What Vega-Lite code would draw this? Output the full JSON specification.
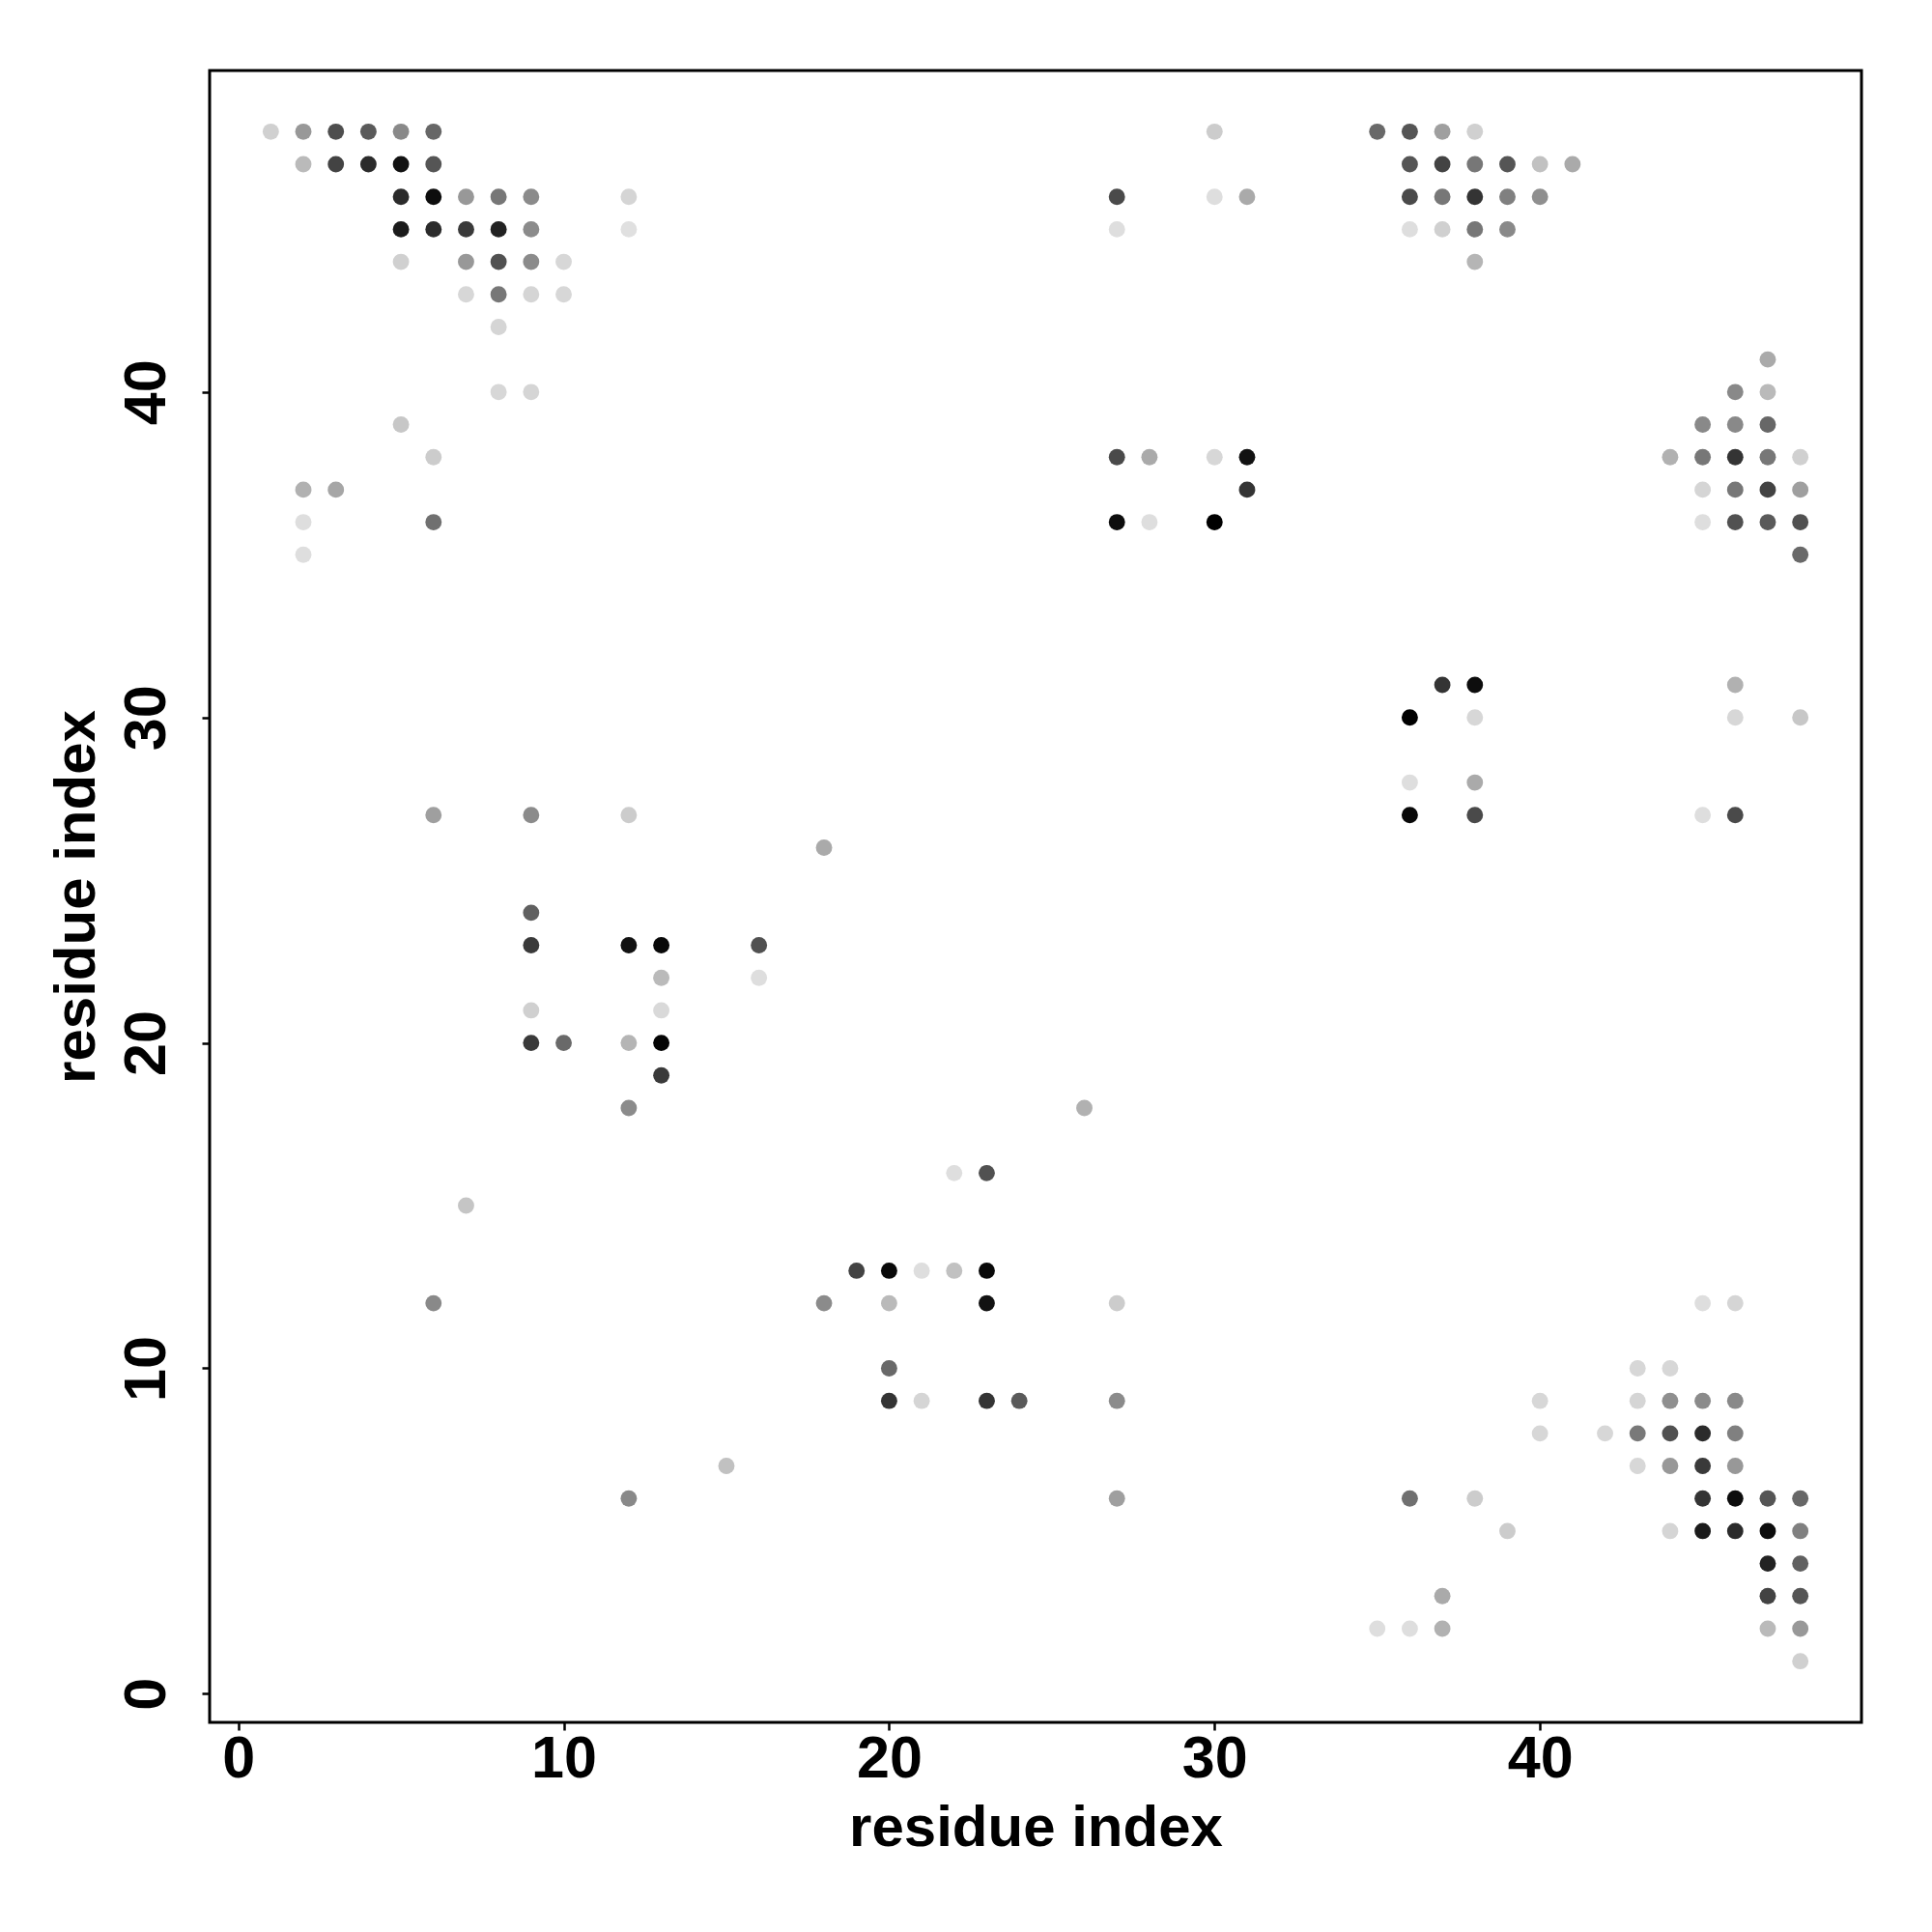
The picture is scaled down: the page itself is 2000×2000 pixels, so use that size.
{
  "$schema": "https://vega.github.io/schema/vega-lite/v6.json",
  "autosize": {"type": "none"},
  "padding": {"left": 217, "top": 73, "right": 73, "bottom": 217},
  "width": 1710,
  "height": 1710,
  "background": "white",
  "config": {
    "view": {"stroke": "#000000", "strokeWidth": 3},
    "axis": {
      "grid": false,
      "domain": false,
      "ticks": true,
      "tickSize": 8,
      "tickWidth": 2.5,
      "tickColor": "#000000",
      "labelFont": "Liberation Sans",
      "labelFontWeight": "bold",
      "labelFontSize": 61,
      "labelColor": "#000000",
      "labelOverlap": false,
      "labelFlush": false,
      "titleFont": "Liberation Sans",
      "titleFontWeight": "bold",
      "titleFontSize": 60,
      "titleColor": "#000000"
    }
  },
  "data": {
    "values": [
      {"i": 1, "j": 48, "p": 0.07}, {"i": 2, "j": 48, "p": 0.32}, {"i": 3, "j": 48, "p": 0.65}, {"i": 4, "j": 48, "p": 0.6}, {"i": 5, "j": 48, "p": 0.39}, {"i": 6, "j": 48, "p": 0.54}, {"i": 30, "j": 48, "p": 0.09}, {"i": 35, "j": 48, "p": 0.53}, {"i": 36, "j": 48, "p": 0.62}, {"i": 37, "j": 48, "p": 0.29}, {"i": 38, "j": 48, "p": 0.07},
      {"i": 2, "j": 47, "p": 0.17}, {"i": 3, "j": 47, "p": 0.7}, {"i": 4, "j": 47, "p": 0.81}, {"i": 5, "j": 47, "p": 0.92}, {"i": 6, "j": 47, "p": 0.62}, {"i": 36, "j": 47, "p": 0.62}, {"i": 37, "j": 47, "p": 0.7}, {"i": 38, "j": 47, "p": 0.47}, {"i": 39, "j": 47, "p": 0.62}, {"i": 40, "j": 47, "p": 0.14}, {"i": 41, "j": 47, "p": 0.24},
      {"i": 5, "j": 46, "p": 0.81}, {"i": 6, "j": 46, "p": 0.94}, {"i": 7, "j": 46, "p": 0.32}, {"i": 8, "j": 46, "p": 0.47}, {"i": 9, "j": 46, "p": 0.38}, {"i": 12, "j": 46, "p": 0.05}, {"i": 27, "j": 46, "p": 0.67}, {"i": 30, "j": 46, "p": 0.01}, {"i": 31, "j": 46, "p": 0.24}, {"i": 36, "j": 46, "p": 0.67}, {"i": 37, "j": 46, "p": 0.47}, {"i": 38, "j": 46, "p": 0.77}, {"i": 39, "j": 46, "p": 0.43}, {"i": 40, "j": 46, "p": 0.36},
      {"i": 5, "j": 45, "p": 0.88}, {"i": 6, "j": 45, "p": 0.81}, {"i": 7, "j": 45, "p": 0.74}, {"i": 8, "j": 45, "p": 0.85}, {"i": 9, "j": 45, "p": 0.38}, {"i": 12, "j": 45, "p": 0.0}, {"i": 27, "j": 45, "p": 0.01}, {"i": 36, "j": 45, "p": 0.01}, {"i": 37, "j": 45, "p": 0.07}, {"i": 38, "j": 45, "p": 0.47}, {"i": 39, "j": 45, "p": 0.39},
      {"i": 5, "j": 44, "p": 0.07}, {"i": 7, "j": 44, "p": 0.32}, {"i": 8, "j": 44, "p": 0.64}, {"i": 9, "j": 44, "p": 0.38}, {"i": 10, "j": 44, "p": 0.04}, {"i": 38, "j": 44, "p": 0.19},
      {"i": 7, "j": 43, "p": 0.04}, {"i": 8, "j": 43, "p": 0.47}, {"i": 9, "j": 43, "p": 0.05}, {"i": 10, "j": 43, "p": 0.04},
      {"i": 8, "j": 42, "p": 0.05},
      {"i": 47, "j": 41, "p": 0.24},
      {"i": 8, "j": 40, "p": 0.04}, {"i": 9, "j": 40, "p": 0.05}, {"i": 46, "j": 40, "p": 0.39}, {"i": 47, "j": 40, "p": 0.17},
      {"i": 5, "j": 39, "p": 0.11}, {"i": 45, "j": 39, "p": 0.39}, {"i": 46, "j": 39, "p": 0.39}, {"i": 47, "j": 39, "p": 0.54},
      {"i": 6, "j": 38, "p": 0.09}, {"i": 27, "j": 38, "p": 0.67}, {"i": 28, "j": 38, "p": 0.24}, {"i": 30, "j": 38, "p": 0.04}, {"i": 31, "j": 38, "p": 0.92}, {"i": 44, "j": 38, "p": 0.21}, {"i": 45, "j": 38, "p": 0.47}, {"i": 46, "j": 38, "p": 0.77}, {"i": 47, "j": 38, "p": 0.47}, {"i": 48, "j": 38, "p": 0.07},
      {"i": 2, "j": 37, "p": 0.21}, {"i": 3, "j": 37, "p": 0.26}, {"i": 31, "j": 37, "p": 0.77}, {"i": 45, "j": 37, "p": 0.05}, {"i": 46, "j": 37, "p": 0.47}, {"i": 47, "j": 37, "p": 0.7}, {"i": 48, "j": 37, "p": 0.29},
      {"i": 2, "j": 36, "p": 0.01}, {"i": 6, "j": 36, "p": 0.5}, {"i": 27, "j": 36, "p": 0.94}, {"i": 28, "j": 36, "p": 0.01}, {"i": 30, "j": 36, "p": 1.0}, {"i": 45, "j": 36, "p": 0.01}, {"i": 46, "j": 36, "p": 0.64}, {"i": 47, "j": 36, "p": 0.6}, {"i": 48, "j": 36, "p": 0.64},
      {"i": 2, "j": 35, "p": 0.01}, {"i": 48, "j": 35, "p": 0.53},
      {"i": 37, "j": 31, "p": 0.77}, {"i": 38, "j": 31, "p": 0.94}, {"i": 46, "j": 31, "p": 0.21},
      {"i": 36, "j": 30, "p": 1.0}, {"i": 38, "j": 30, "p": 0.04}, {"i": 46, "j": 30, "p": 0.04}, {"i": 48, "j": 30, "p": 0.11},
      {"i": 36, "j": 28, "p": 0.01}, {"i": 38, "j": 28, "p": 0.24},
      {"i": 6, "j": 27, "p": 0.29}, {"i": 9, "j": 27, "p": 0.38}, {"i": 12, "j": 27, "p": 0.09}, {"i": 36, "j": 27, "p": 0.96}, {"i": 38, "j": 27, "p": 0.67}, {"i": 45, "j": 27, "p": 0.01}, {"i": 46, "j": 27, "p": 0.67},
      {"i": 18, "j": 26, "p": 0.24},
      {"i": 9, "j": 24, "p": 0.57},
      {"i": 9, "j": 23, "p": 0.74}, {"i": 12, "j": 23, "p": 0.92}, {"i": 13, "j": 23, "p": 0.96}, {"i": 16, "j": 23, "p": 0.64},
      {"i": 13, "j": 22, "p": 0.17}, {"i": 16, "j": 22, "p": 0.01},
      {"i": 9, "j": 21, "p": 0.07}, {"i": 13, "j": 21, "p": 0.03},
      {"i": 9, "j": 20, "p": 0.74}, {"i": 10, "j": 20, "p": 0.53}, {"i": 12, "j": 20, "p": 0.19}, {"i": 13, "j": 20, "p": 0.98},
      {"i": 13, "j": 19, "p": 0.74},
      {"i": 12, "j": 18, "p": 0.38}, {"i": 26, "j": 18, "p": 0.21},
      {"i": 22, "j": 16, "p": 0.01}, {"i": 23, "j": 16, "p": 0.64},
      {"i": 7, "j": 15, "p": 0.12},
      {"i": 19, "j": 13, "p": 0.7}, {"i": 20, "j": 13, "p": 0.96}, {"i": 21, "j": 13, "p": 0.01}, {"i": 22, "j": 13, "p": 0.14}, {"i": 23, "j": 13, "p": 0.96},
      {"i": 6, "j": 12, "p": 0.39}, {"i": 18, "j": 12, "p": 0.38}, {"i": 20, "j": 12, "p": 0.17}, {"i": 23, "j": 12, "p": 0.92}, {"i": 27, "j": 12, "p": 0.09}, {"i": 45, "j": 12, "p": 0.01}, {"i": 46, "j": 12, "p": 0.05},
      {"i": 20, "j": 10, "p": 0.53}, {"i": 43, "j": 10, "p": 0.04}, {"i": 44, "j": 10, "p": 0.04},
      {"i": 20, "j": 9, "p": 0.77}, {"i": 21, "j": 9, "p": 0.05}, {"i": 23, "j": 9, "p": 0.77}, {"i": 24, "j": 9, "p": 0.6}, {"i": 27, "j": 9, "p": 0.38}, {"i": 40, "j": 9, "p": 0.04}, {"i": 43, "j": 9, "p": 0.05}, {"i": 44, "j": 9, "p": 0.36}, {"i": 45, "j": 9, "p": 0.38}, {"i": 46, "j": 9, "p": 0.39},
      {"i": 40, "j": 8, "p": 0.04}, {"i": 42, "j": 8, "p": 0.04}, {"i": 43, "j": 8, "p": 0.46}, {"i": 44, "j": 8, "p": 0.64}, {"i": 45, "j": 8, "p": 0.81}, {"i": 46, "j": 8, "p": 0.43},
      {"i": 15, "j": 7, "p": 0.14}, {"i": 43, "j": 7, "p": 0.04}, {"i": 44, "j": 7, "p": 0.32}, {"i": 45, "j": 7, "p": 0.74}, {"i": 46, "j": 7, "p": 0.32},
      {"i": 12, "j": 6, "p": 0.39}, {"i": 27, "j": 6, "p": 0.29}, {"i": 36, "j": 6, "p": 0.5}, {"i": 38, "j": 6, "p": 0.09}, {"i": 45, "j": 6, "p": 0.77}, {"i": 46, "j": 6, "p": 0.94}, {"i": 47, "j": 6, "p": 0.62}, {"i": 48, "j": 6, "p": 0.54},
      {"i": 39, "j": 5, "p": 0.09}, {"i": 44, "j": 5, "p": 0.05}, {"i": 45, "j": 5, "p": 0.88}, {"i": 46, "j": 5, "p": 0.81}, {"i": 47, "j": 5, "p": 0.94}, {"i": 48, "j": 5, "p": 0.43},
      {"i": 47, "j": 4, "p": 0.85}, {"i": 48, "j": 4, "p": 0.57},
      {"i": 37, "j": 3, "p": 0.24}, {"i": 47, "j": 3, "p": 0.7}, {"i": 48, "j": 3, "p": 0.62},
      {"i": 35, "j": 2, "p": 0.01}, {"i": 36, "j": 2, "p": 0.01}, {"i": 37, "j": 2, "p": 0.21}, {"i": 47, "j": 2, "p": 0.17}, {"i": 48, "j": 2, "p": 0.32},
      {"i": 48, "j": 1, "p": 0.07}
    ]
  },
  "mark": {"type": "circle", "size": 285, "opacity": 1, "strokeWidth": 0},
  "encoding": {
    "x": {
      "field": "i",
      "type": "quantitative",
      "scale": {"domain": [-0.88, 49.88], "nice": false, "zero": false},
      "axis": {"values": [0, 10, 20, 30, 40], "title": "residue index", "labelPadding": 0, "titlePadding": 12}
    },
    "y": {
      "field": "j",
      "type": "quantitative",
      "scale": {"domain": [-0.88, 49.88], "nice": false, "zero": false},
      "axis": {"values": [0, 10, 20, 30, 40], "title": "residue index", "labelAngle": -90, "labelAlign": "center", "labelBaseline": "alphabetic", "labelPadding": 39, "titlePadding": 11}
    },
    "color": {
      "field": "p",
      "type": "quantitative",
      "scale": {"domain": [0, 1], "range": ["#e0e0e0", "#000000"], "interpolate": "rgb"},
      "legend": null
    }
  }
}
